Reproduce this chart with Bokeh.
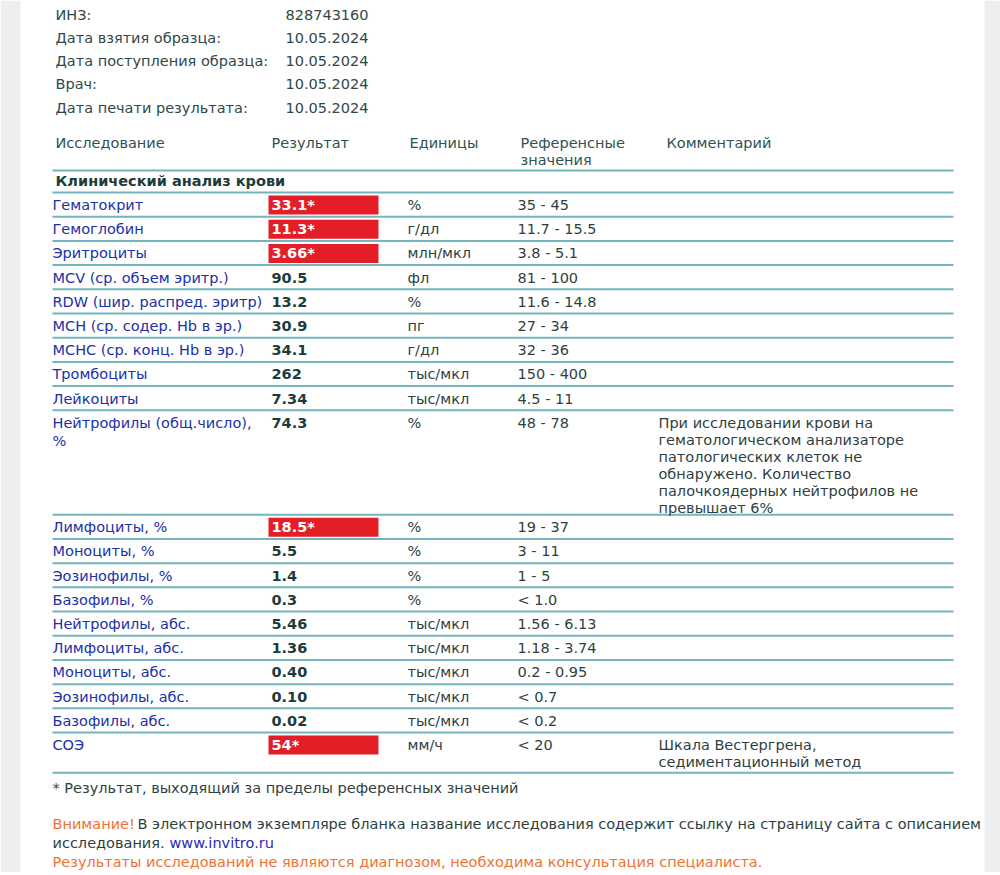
from bokeh.plotting import figure
from bokeh.models import ColumnDataSource, Range1d
from bokeh.core.properties import value
from bokeh.embed import file_html
from bokeh.resources import INLINE

# ---------------- data ----------------
info_labels = ["ИНЗ:", "Дата взятия образца:", "Дата поступления образца:", "Врач:", "Дата печати результата:"]
info_values = ["828743160", "10.05.2024", "10.05.2024", "10.05.2024", "10.05.2024"]

col_headers = ["Исследование", "Результат", "Единицы", "Референсные\nзначения", "Комментарий"]
section_title = "Клинический анализ крови"

test_names = [
    "Гематокрит", "Гемоглобин", "Эритроциты", "MCV (ср. объем эритр.)",
    "RDW (шир. распред. эритр)", "MCH (ср. содер. Hb в эр.)", "MCHC (ср. конц. Hb в эр.)",
    "Тромбоциты", "Лейкоциты", "Нейтрофилы (общ.число),\n%", "Лимфоциты, %", "Моноциты, %",
    "Эозинофилы, %", "Базофилы, %", "Нейтрофилы, абс.", "Лимфоциты, абс.", "Моноциты, абс.",
    "Эозинофилы, абс.", "Базофилы, абс.", "СОЭ",
]
results = ["33.1", "11.3", "3.66", "90.5", "13.2", "30.9", "34.1", "262", "7.34", "74.3",
           "18.5", "5.5", "1.4", "0.3", "5.46", "1.36", "0.40", "0.10", "0.02", "54"]
out_of_range = [1, 1, 1, 0, 0, 0, 0, 0, 0, 0, 1, 0, 0, 0, 0, 0, 0, 0, 0, 1]
units = ["%", "г/дл", "млн/мкл", "фл", "%", "пг", "г/дл", "тыс/мкл", "тыс/мкл", "%",
         "%", "%", "%", "%", "тыс/мкл", "тыс/мкл", "тыс/мкл", "тыс/мкл", "тыс/мкл", "мм/ч"]
refs = ["35 - 45", "11.7 - 15.5", "3.8 - 5.1", "81 - 100", "11.6 - 14.8", "27 - 34", "32 - 36",
        "150 - 400", "4.5 - 11", "48 - 78", "19 - 37", "3 - 11", "1 - 5", "< 1.0", "1.56 - 6.13",
        "1.18 - 3.74", "0.2 - 0.95", "< 0.7", "< 0.2", "< 20"]
comments = [""] * 20
comments[9] = ("При исследовании крови на\nгематологическом анализаторе\nпатологических клеток не\n"
               "обнаружено. Количество\nпалочкоядерных нейтрофилов не\nпревышает 6%")
comments[19] = "Шкала Вестергрена,\nседиментационный метод"

footnote = "* Результат, выходящий за пределы референсных значений"
note_warn = "Внимание!"
note_text1 = "В электронном экземпляре бланка название исследования содержит ссылку на страницу сайта с описанием"
note_text2 = "исследования."
note_link = "www.invitro.ru"
note_last = "Результаты исследований не являются диагнозом, необходима консультация специалиста."

# ---------------- layout / style ----------------
FONT = value("DejaVu Sans")
FS = "14.5px"
C_INFO = "#2f4848"
C_HEAD = "#2f5252"
C_NAME = "#2030a8"
C_RES = "#1c3c3c"
C_TXT = "#2f3f3f"
C_LINE = "#72b5bf"
C_RED = "#e31e26"
C_ORANGE = "#f07232"
C_LINK = "#2a2ab8"

W, H = 1000, 872
X_NAME, X_RES, X_UNIT, X_REF, X_COM = 52, 271, 407, 517, 658
ROW_H, EXTRA, LSP = 24.2, 16.05, 17.0

p = figure(width=W, height=H, x_range=Range1d(0, W), y_range=Range1d(H, 0),
           output_backend="svg", toolbar_location=None, x_axis_location=None,
           y_axis_location=None, min_border=0, outline_line_color=None,
           background_fill_color="white", border_fill_color="white")
p.grid.visible = False

# side strips of the page
p.quad(left=[0, 984], right=[20, 1000], top=[0, 0], bottom=[H, H],
       fill_color="#eeeef1", line_color=None)

def add_text(xs, ys, texts, color, bold=False, size=FS):
    src = ColumnDataSource(dict(x=xs, y=ys, t=texts))
    p.text(x="x", y="y", text="t", source=src, text_font=FONT, text_font_size=size,
           text_color=color, text_baseline="middle", text_align="left",
           text_font_style="bold" if bold else "normal")

# info block
iy = [14 + 23.3 * i for i in range(len(info_labels))]
add_text([55] * len(info_labels), iy, info_labels, C_INFO)
add_text([285] * len(info_values), iy, info_values, C_INFO)

# column headers
hx = [55, 271, 409, 520, 666]
hxs, hys, hts = [], [], []
for x, h in zip(hx, col_headers):
    for k, line in enumerate(h.split("\n")):
        hxs.append(x); hys.append(142 + 17 * k); hts.append(line)
add_text(hxs, hys, hts, C_HEAD)

# section title
add_text([55], [180], [section_title], C_RES, bold=True)

# rows
tops = []
y = 192.0
for i in range(len(test_names)):
    n = max(len(test_names[i].split("\n")), len(comments[i].split("\n")) if comments[i] else 1)
    tops.append(y)
    y += ROW_H + (n - 1) * EXTRA
bottom_line = y

line_ys = [170, 192] + tops[1:] + [bottom_line]
p.segment(x0=[52] * len(line_ys), x1=[953] * len(line_ys), y0=line_ys, y1=line_ys,
          line_color=C_LINE, line_width=2)

# red boxes for out of range results
bl, br, bt, bb = [], [], [], []
for i, f in enumerate(out_of_range):
    if f:
        bl.append(268); br.append(378); bt.append(tops[i] + 3); bb.append(tops[i] + 22)
p.quad(left=bl, right=br, top=bt, bottom=bb, fill_color=C_RED, line_color=None)

def multiline(x, texts, color, bold=False, sp=LSP):
    xs, ys, ts = [], [], []
    for i, t in enumerate(texts):
        if not t:
            continue
        for k, line in enumerate(t.split("\n")):
            xs.append(x); ys.append(tops[i] + 12.5 + sp * k); ts.append(line)
    add_text(xs, ys, ts, color, bold)

multiline(X_NAME, test_names, C_NAME, sp=18.5)
multiline(X_RES, [r if not f else "" for r, f in zip(results, out_of_range)], C_RES, bold=True)
multiline(X_RES, [r + "*" if f else "" for r, f in zip(results, out_of_range)], "white", bold=True)
multiline(X_UNIT, units, C_TXT)
multiline(X_REF, refs, C_TXT)
multiline(X_COM, comments, C_TXT)

# footer
add_text([52], [787], [footnote], C_TXT)
add_text([52], [823], [note_warn], C_ORANGE)
add_text([137], [823], [note_text1], C_TXT)
add_text([52], [842], [note_text2], C_TXT)
add_text([169], [842], [note_link], C_LINK)
add_text([52], [861], [note_last], C_ORANGE)

open("out.html", "w").write(file_html(p, INLINE))
